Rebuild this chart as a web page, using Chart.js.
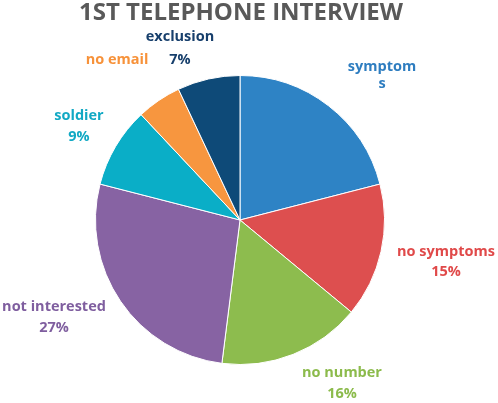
<!DOCTYPE html>
<html>
<head>
<meta charset="utf-8">
<script src="https://cdn.jsdelivr.net/npm/chart.js@4"></script>
<style>
    html, body { margin: 0; padding: 0; background: #fff; }
    #wrap { width: 498px; height: 403px; }
</style>
</head>
<body>
<div id="wrap"><canvas id="myChart" width="498" height="403"></canvas></div>
<script>
const chartTitle = '1ST TELEPHONE INTERVIEW';
const categories = ['symptoms', 'no symptoms', 'no number', 'not interested', 'soldier', 'no email', 'exclusion'];
const values = [21, 15, 16, 27, 9, 5, 7];
// how each label is written in the picture (symptoms is wrapped, two have no %)
const labelLines = [['symptom', 's'], ['no symptoms'], ['no number'], ['not interested'], ['soldier'], ['no email'], ['exclusion']];
const showPct = [false, true, true, true, true, false, true];

const sliceColors = ['#2E83C5', '#DD4F4F', '#8DBC4E', '#8763A3', '#0AAEC7', '#F7963F', '#0E4A78'];
const textColors = ['#2E7DC0', '#E04949', '#8CBB4C', '#7F5E9F', '#12A9C4', '#F7923A', '#173F6C'];
// label anchor relative to pie centre
const labelOffsets = [[142, -153], [206, 32], [102, 153], [-186, 87], [-161, -104], [-123, -160], [-60, -183]];
const lineGap = [17, 20, 21, 21, 21, 21, 23];

const total = values.reduce((a, b) => a + b, 0);

const labelPlugin = {
    id: 'sliceLabels',
    afterDraw(chart) {
        const ctx = chart.ctx;
        const arcs = chart.getDatasetMeta(0).data;
        ctx.save();
        ctx.textAlign = 'center';
        ctx.textBaseline = 'middle';

        // title (drawn here so chart.js doesn't squeeze it into the padded box)
        ctx.font = 'bold 24px "Open Sans"';
        ctx.fillStyle = '#595959';
        ctx.fillText(chartTitle, 241, 13);

        ctx.font = 'bold 14.5px "Open Sans"';
        arcs.forEach((arc, i) => {
            let lines = labelLines[i].slice();
            if (showPct[i]) lines.push(Math.round(values[i] / total * 100) + '%');
            ctx.fillStyle = textColors[i];
            let x = arc.x + labelOffsets[i][0];
            let y = arc.y + labelOffsets[i][1];
            lines.forEach((t, k) => {
                ctx.fillText(t, x, y + k * lineGap[i]);
            });
        });
        ctx.restore();
    }
};

const ctx = document.getElementById('myChart').getContext('2d');
const myChart = new Chart(ctx, {
    type: 'pie',
    data: {
        labels: categories,
        datasets: [{
            data: values,
            backgroundColor: sliceColors,
            borderColor: '#ffffff',
            borderWidth: 1
        }]
    },
    options: {
        responsive: false,
        animation: false,
        layout: {
            padding: { left: 95, right: 113, top: 75, bottom: 38 }
        },
        plugins: {
            legend: { display: false },
            tooltip: { enabled: false },
            title: { display: false }
        }
    },
    plugins: [labelPlugin]
});
</script>
</body>
</html>
